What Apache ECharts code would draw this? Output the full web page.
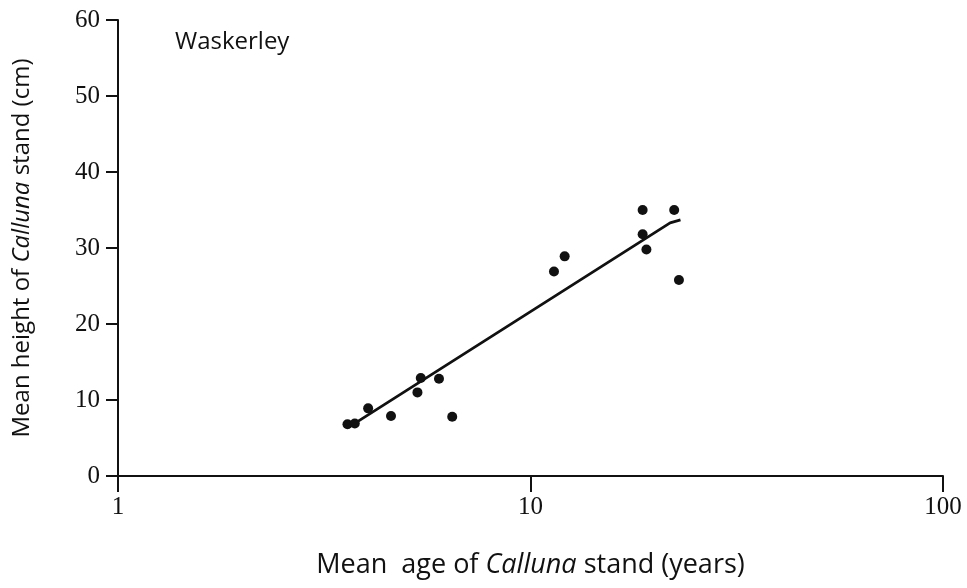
<!DOCTYPE html>
<html>
<head>
<meta charset="utf-8">
<script src="https://cdn.jsdelivr.net/npm/echarts@6/dist/echarts.min.js"></script>
<style>
  html, body { margin: 0; padding: 0; background: #fff; }
  #chart { width: 967px; height: 588px; }
</style>
</head>
<body>
<div id="chart"></div>
<script>
// stand age (years) and height (cm)
const ageYears = [3.6, 3.75, 4.04, 4.59, 5.32, 5.42, 6.0, 6.46, 11.4, 12.1, 18.7, 18.7, 19.1, 22.3, 22.9]
const heightCm = [6.8, 6.9, 8.9, 7.9, 11.0, 12.9, 12.8, 7.8, 26.9, 28.9, 35.0, 31.8, 29.8, 35.0, 25.8]

// fitted line
const fitAge = [3.62, 21.8, 23.1]
const fitHeight = [6.4, 33.3, 33.7]

const xTickLabels = ['1', '10', '100']
const siteName = 'Waskerley'

const pts = ageYears.map((a, i) => [a, heightCm[i]])
const fit = fitAge.map((a, i) => [a, fitHeight[i]])

const chart = echarts.init(document.getElementById('chart'))

const option = {
  backgroundColor: '#fff',
  animation: false,
  grid: {
    left: 118,
    right: 24,
    top: 20,
    bottom: 112
  },
  xAxis: {
    type: 'log',
    logBase: 10,
    min: 1,
    max: 100,
    axisLine: { lineStyle: { color: '#111', width: 2 } },
    axisTick: { inside: false, length: 16, lineStyle: { color: '#111', width: 2 } },
    minorTick: { show: false },
    splitLine: { show: false },
    axisLabel: {
      margin: 19,
      color: '#111',
      fontFamily: 'Liberation Serif',
      fontSize: 25,
      formatter: v => xTickLabels.includes(String(v)) ? String(v) : ''
    },
    name: '{n|Mean  age of }{i|Calluna}{n| stand (years)}',
    nameLocation: 'middle',
    nameGap: 76,
    nameTextStyle: {
      rich: {
        n: { fontFamily: 'Open Sans', fontSize: 27, color: '#111' },
        i: { fontFamily: 'Open Sans', fontSize: 27, fontStyle: 'italic', color: '#111' }
      }
    }
  },
  yAxis: {
    type: 'value',
    min: 0,
    max: 60,
    interval: 10,
    axisLine: { show: true, lineStyle: { color: '#111', width: 2 } },
    axisTick: { show: true, length: 12, lineStyle: { color: '#111', width: 2 } },
    splitLine: { show: false },
    axisLabel: {
      margin: 18,
      color: '#111',
      fontFamily: 'Liberation Serif',
      fontSize: 25
    },
    name: '{n|Mean height of }{i|Calluna}{n| stand (cm)}',
    nameLocation: 'middle',
    nameGap: 84,
    nameTextStyle: {
      rich: {
        n: { fontFamily: 'Open Sans', fontSize: 24, color: '#111' },
        i: { fontFamily: 'Open Sans', fontSize: 24, fontStyle: 'italic', color: '#111' }
      }
    }
  },
  graphic: [
    {
      type: 'text',
      left: 175,
      top: 30,
      style: {
        text: siteName,
        fontFamily: 'Open Sans',
        fontSize: 24,
        fill: '#111'
      }
    }
  ],
  series: [
    {
      name: 'fit',
      type: 'line',
      data: fit,
      showSymbol: false,
      symbol: 'none',
      lineStyle: { color: '#111', width: 2.8 },
      z: 2
    },
    {
      name: 'stands',
      type: 'scatter',
      data: pts,
      symbol: 'circle',
      symbolSize: 10,
      itemStyle: { color: '#111', opacity: 1 },
      z: 3
    }
  ]
}

chart.setOption(option)
</script>
</body>
</html>
